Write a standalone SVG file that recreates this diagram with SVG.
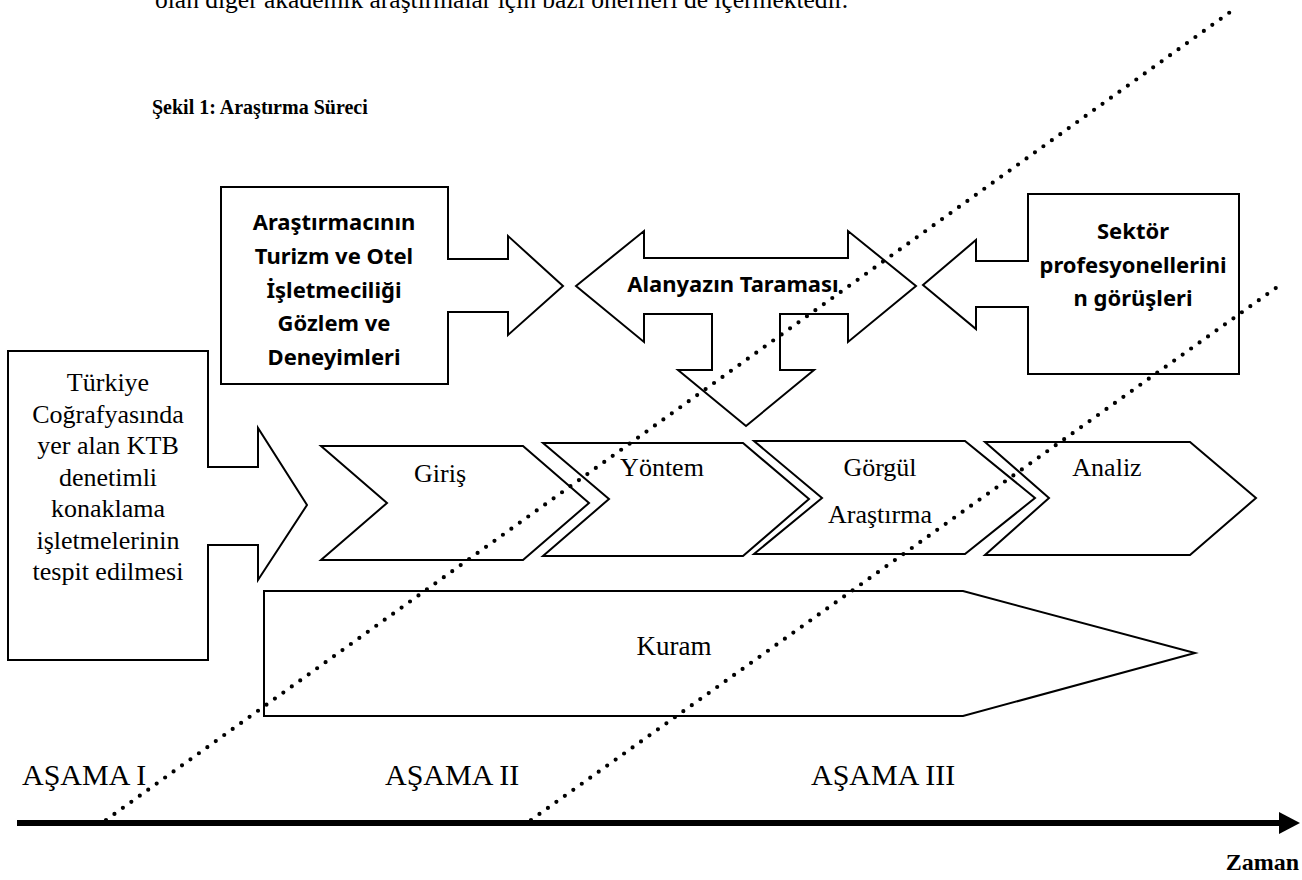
<svg xmlns="http://www.w3.org/2000/svg" width="1302" height="880" viewBox="0 0 1302 880">
<style>
.shape{fill:#fff;stroke:#000;stroke-width:2;stroke-linejoin:miter}
.serif{font-family:"Liberation Serif","Times New Roman",serif;fill:#000}
.sans{font-family:"Noto Sans","Open Sans","Liberation Sans",sans-serif;font-weight:700;fill:#000}
.dot{fill:none;stroke:#000;stroke-width:4.2;stroke-linecap:round;stroke-dasharray:0 10.4}
</style>
<defs>
<clipPath id="clipBox2"><rect x="222" y="188" width="226" height="184"/></clipPath>
</defs>
<rect width="1302" height="880" fill="#fff"/>
<text class="serif" x="155" y="8" font-size="25.5">olan diğer akademik araştırmalar için bazı önerileri de içermektedir.</text>
<text class="serif" x="152" y="114" font-size="20" font-weight="700">Şekil 1: Araştırma Süreci</text>

<g id="node-turkiye">
<path class="shape" d="M8,351 H208 V467 H258 V428 L307,505 L258,580 V545 H208 V660 H8 Z"/>
<g class="serif" font-size="26" text-anchor="middle">
<text x="108" y="391">Türkiye</text>
<text x="108" y="422.5">Coğrafyasında</text>
<text x="108" y="454">yer alan KTB</text>
<text x="108" y="485.5">denetimli</text>
<text x="108" y="517">konaklama</text>
<text x="108" y="548.5">işletmelerinin</text>
<text x="108" y="580">tespit edilmesi</text>
</g>
</g>

<g id="node-arastirmaci">
<path class="shape" d="M221,187 H448 V259 H508 V236 L563,286 L508,335 V312 H448 V384 H221 Z"/>
<g class="sans" font-size="22" text-anchor="middle" clip-path="url(#clipBox2)">
<text x="334" y="230">Araştırmacının</text>
<text x="334" y="264">Turizm ve Otel</text>
<text x="334" y="298">İşletmeciliği</text>
<text x="334" y="331">Gözlem ve</text>
<text x="334" y="365">Deneyimleri</text>
</g>
</g>

<g id="node-alanyazin">
<path class="shape" d="M576,286 L644,231 V258 H848 V231 L916,286 L848,342 V314 H780 V370 H814 L746,426 L678,370 H712 V314 H644 V342 Z"/>
<text class="sans" x="733" y="292" font-size="22" text-anchor="middle">Alanyazın Taraması</text>
</g>

<g id="node-sektor">
<path class="shape" d="M1028,194 H1239 V374 H1028 V307 H976 V329 L923,285 L976,240 V261 H1028 Z"/>
<g class="sans" font-size="22" text-anchor="middle">
<text x="1133" y="239">Sektör</text>
<text x="1133" y="273">profesyonellerini</text>
<text x="1133" y="306">n görüşleri</text>
</g>
</g>

<g id="node-giris">
<path class="shape" d="M321,446 H523 L589,503 L523,560 H321 L387,503 Z"/>
<text class="serif" x="440" y="482" font-size="26" text-anchor="middle">Giriş</text>
</g>
<g id="node-yontem">
<path class="shape" d="M543,443 H743 L809,499 L743,556 H543 L609,499 Z"/>
<text class="serif" x="662" y="476" font-size="26" text-anchor="middle">Yöntem</text>
</g>
<g id="node-gorgul">
<path class="shape" d="M754,441 H965 L1035,498 L965,554 H754 L822,498 Z"/>
<text class="serif" x="880" y="476" font-size="26" text-anchor="middle">Görgül</text>
<text class="serif" x="880" y="523" font-size="26" text-anchor="middle">Araştırma</text>
</g>
<g id="node-analiz">
<path class="shape" d="M985,442 H1190 L1256,498 L1190,555 H985 L1049,498 Z"/>
<text class="serif" x="1107" y="476" font-size="26" text-anchor="middle">Analiz</text>
</g>

<g id="node-kuram">
<path class="shape" d="M264,591 H963 L1195,653 L963,716 H264 Z"/>
<text class="serif" x="674" y="655" font-size="27" text-anchor="middle">Kuram</text>
</g>

<g id="labels" class="serif" font-size="30">
<text x="22" y="785">AŞAMA I</text>
<text x="385" y="785">AŞAMA II</text>
<text x="811" y="785">AŞAMA III</text>
</g>

<g id="connectors">
<line class="dot" x1="106" y1="820" x2="1233" y2="10"/>
<line class="dot" x1="531" y1="820" x2="1280" y2="285"/>
<line x1="17" y1="823" x2="1282" y2="823" stroke="#000" stroke-width="6"/>
<polygon points="1279,812 1300,823 1279,834" fill="#000"/>
</g>
<text class="serif" x="1299" y="870" font-size="24" font-weight="700" text-anchor="end">Zaman</text>
</svg>
